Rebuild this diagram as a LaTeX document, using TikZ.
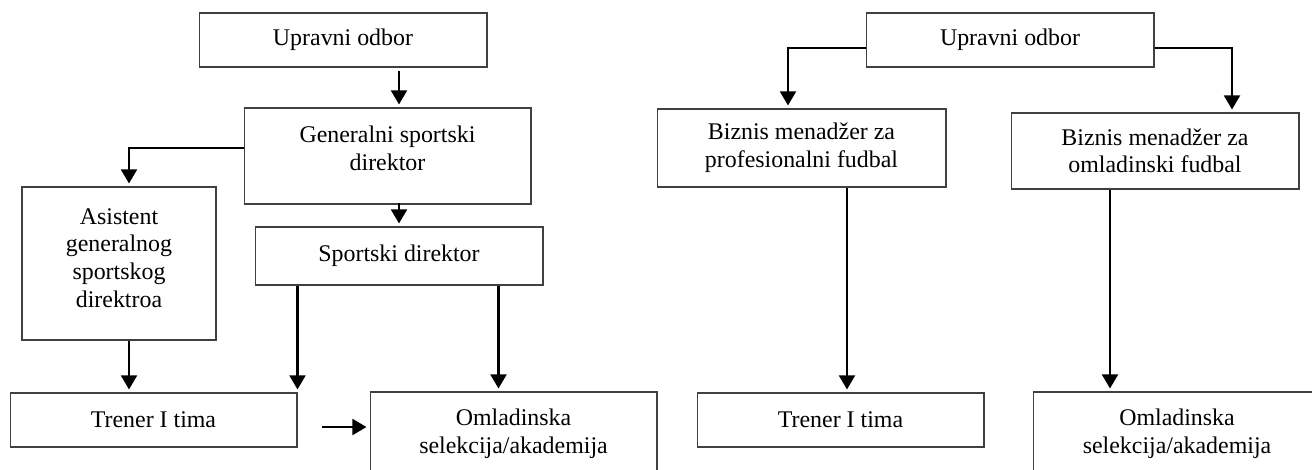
\documentclass[tikz,border=0pt]{standalone}
\usepackage{fontspec}
\setmainfont{Liberation Serif}
\usetikzlibrary{positioning,arrows.meta,calc}
\tikzset{
  box/.style   = {draw=black!75, line width=0.6pt, align=center, inner sep=0pt,
                  minimum width=5.76cm, minimum height=1.08cm,
                  font=\fontsize{13.6}{15.7}\selectfont},
  arrow/.style = {-{Triangle[width=9pt,length=8pt]}, line width=1.4pt, shorten >=1.7pt},
}
\begin{document}
\begin{tikzpicture}[x=0.02cm, y=-0.02cm]
  \useasboundingbox (0,0) rectangle (1312,470);
  \clip (0,0) rectangle (1312,470);
  \node[box] (upL) at (343,40) {Upravni odbor};
  \node[box, minimum width=5.74cm, minimum height=1.92cm, text height=21.1pt, text depth=5pt] (gen) at (387.5,156) {Generalni sportski\\direktor};
  \node[box, minimum width=3.88cm, minimum height=3.06cm, text height=54.7pt, text depth=5pt] (asist) at (119,263.5) {Asistent\\generalnog\\sportskog\\direktroa};
  \node[box, minimum height=1.16cm] (sport) at (399,256) {Sportski direktor};
  \node[box, minimum width=5.74cm] (trenL) at (153.5,420) {Trener I tima};
  \node[box, minimum width=5.74cm, minimum height=1.68cm] (omlL) at (513.5,434) {Omladinska\\selekcija/akademija};
  \node[box] (upR) at (1010,40) {Upravni odbor};
  \node[box, minimum width=5.78cm, minimum height=1.56cm] (bizP) at (801.5,148) {Biznis menad\v{z}er za\\profesionalni fudbal};
  \node[box, minimum height=1.52cm] (bizO) at (1155,151) {Biznis menad\v{z}er za\\omladinski fudbal};
  \node[box, minimum width=5.74cm] (trenR) at (840.5,420) {Trener I tima};
  \node[box, minimum height=1.68cm] (omlR) at (1177,434) {Omladinska\\selekcija/akademija};
  \coordinate (fr) at (322,427);
  \draw[arrow] ($(upL.south -| sport.north)+(0,3)$) -- (gen.north -| sport.north);
  \draw[arrow] ($(gen.west)+(0,-8)$) -| ($(asist.north)+(10,0)$);
  \draw[arrow] ($(gen.south -| sport.north)+(0,-2)$) -- (sport.north);
  \draw[arrow] ($(asist.south)+(10,0)$) -- ($(asist.south |- trenL.north)+(10,0)$);
  \draw[arrow] (sport.south -| trenL.north east) -- (trenL.north east);
  \draw[arrow] ($(sport.south -| omlL.north)+(-15,0)$) -- ($(omlL.north)+(-15,0)$);
  \draw[arrow] (fr) -- (fr -| omlL.west);
  \draw[arrow] ($(upR.west)+(0,8)$) -| ($(bizP.north)+(-13.5,0)$);
  \draw[arrow] ($(upR.east)+(0,8)$) -| ($(bizO.north)+(77,0)$);
  \draw[arrow] ($(bizP.south)+(45.5,0)$) -- ($(bizP.south |- trenR.north)+(45.5,0)$);
  \draw[arrow] ($(bizO.south)+(-45,0)$) -- ($(bizO.south |- omlR.north)+(-45,0)$);
\end{tikzpicture}
\end{document}
